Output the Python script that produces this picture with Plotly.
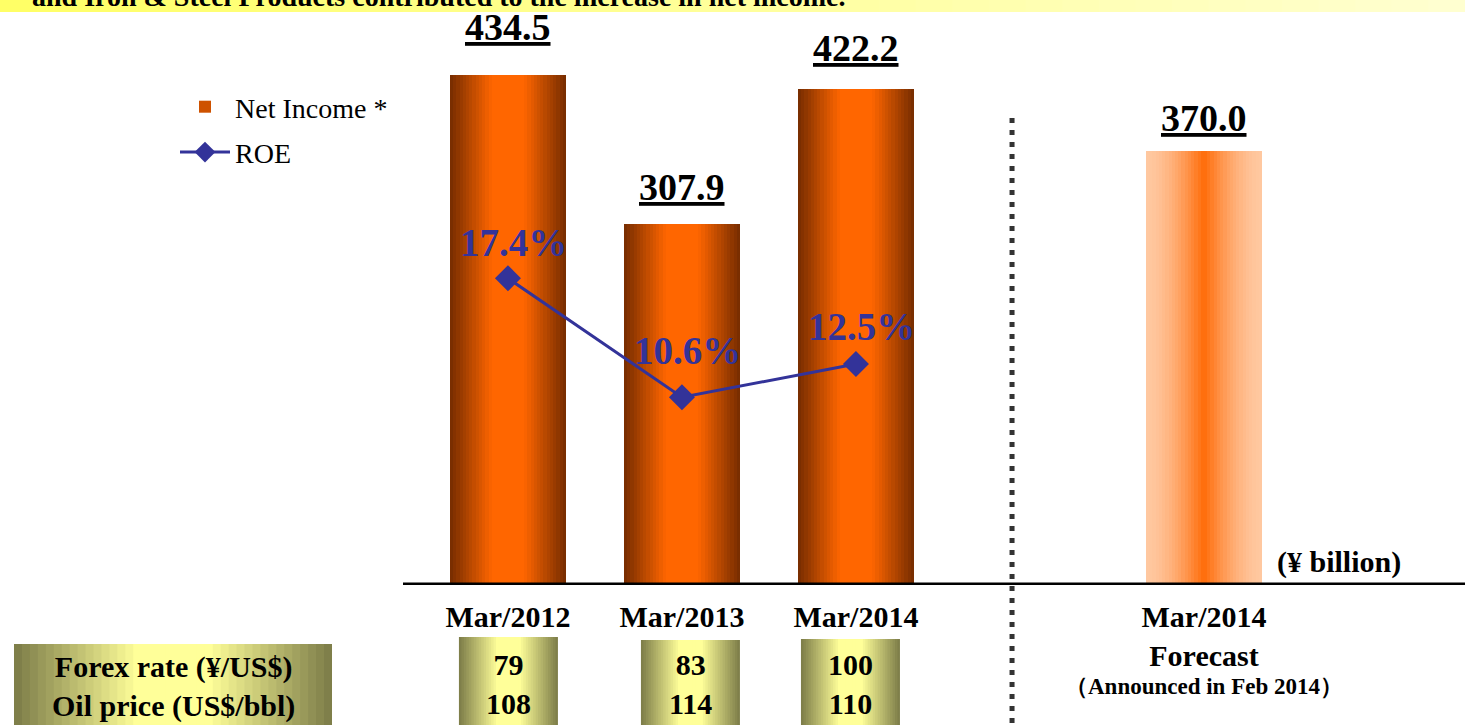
import plotly.graph_objects as go

# ---------------- data ----------------
categories = ["Mar/2012", "Mar/2013", "Mar/2014", "Mar/2014<br>Forecast"]
forecast_note = "（Announced in Feb 2014）"
net_income = [434.5, 307.9, 422.2, 370.0]
net_labels = ["434.5", "307.9", "422.2", "370.0"]
roe_categories = ["Mar/2012", "Mar/2013", "Mar/2014"]
roe = [17.4, 10.6, 12.5]
roe_labels = ["17.4%", "10.6%", "12.5%"]
forex = [79, 83, 100]
oil = [108, 114, 110]
banner_text = "and Iron &amp; Steel Products contributed to the increase in net income."

# ---------------- layout helpers ----------------
W, H = 1465, 725
x_pos = [0, 1, 2, 4]
FONT = "Liberation Serif, Times New Roman, serif"


def hexrgb(h):
    h = h.lstrip("#")
    return tuple(int(h[i:i + 2], 16) for i in (0, 2, 4))


def lerp(c1, c2, t):
    a, b = hexrgb(c1), hexrgb(c2)
    return "rgb(%d,%d,%d)" % tuple(round(a[i] + (b[i] - a[i]) * t) for i in range(3))


def px(x):
    return x / W


def py(y):
    return 1 - y / H


fig = go.Figure()

# gradient bars: nested overlaid bars
N = 18
bar_w = 0.667
edge_cols = ["#7a2e00", "#7a2e00", "#7a2e00", "#ffc8a0"]
scale = [0.7, 0.7, 0.7, 1.0]
center_col = "#ff6600"
for k in range(N):
    cols = [lerp(e, center_col, min(1.0, (k / N) / s) ** (1.0 if s < 1 else 1.6))
            for e, s in zip(edge_cols, scale)]
    fig.add_trace(go.Bar(
        x=x_pos, y=net_income, width=bar_w * (1 - k / N),
        marker=dict(color=cols, line=dict(width=0)),
        name="Net Income *", showlegend=(k == 8), hoverinfo="skip",
        legendgroup="ni", legendrank=1,
    ))

# ROE line
fig.add_trace(go.Scatter(
    x=x_pos[:len(roe)], y=roe, yaxis="y2", mode="lines+markers", name="ROE",
    line=dict(color="#333399", width=3),
    marker=dict(symbol="diamond", size=20, color="#333399"),
    legendgroup="roe", legendrank=2, hoverinfo="skip",
))

annotations = []
shapes = []

# value labels above bars
label_yshift = [25, 14, 18, 10]
for xi, v, lab, ys in zip(x_pos, net_income, net_labels, label_yshift):
    annotations.append(dict(
        x=xi, y=v, xref="x", yref="y", text="<b>" + lab + "</b>",
        showarrow=False, xanchor="center", yanchor="bottom", yshift=ys,
        font=dict(family=FONT, size=38, color="black", lineposition="under"),
    ))

# ROE labels
roe_yshift = [36, 47, 37]
for xi, v, lab, ys in zip(x_pos, roe, roe_labels, roe_yshift):
    annotations.append(dict(
        x=xi, y=v, xref="x", yref="y2", text="<b>" + lab + "</b>",
        showarrow=False, xanchor="center", yanchor="middle", yshift=ys, xshift=6,
        font=dict(family=FONT, size=39, color="#333399"),
    ))

# forecast note under the forecast tick label
annotations.append(dict(
    x=x_pos[3], y=py(686), xref="x", yref="paper", text="<b>" + forecast_note + "</b>",
    xanchor="center", yanchor="middle", showarrow=False,
    font=dict(family=FONT, size=23, color="black"),
))

# unit label
annotations.append(dict(
    x=px(1339), y=py(562), xref="paper", yref="paper", text="<b>(¥ billion)</b>",
    xanchor="center", yanchor="middle",
    showarrow=False, font=dict(family=FONT, size=30, color="black"),
))

# banner
nb = 40
for i in range(nb):
    shapes.append(dict(type="rect", xref="paper", yref="paper",
                       x0=i / nb, x1=(i + 1) / nb + 0.001, y0=py(12), y1=1,
                       fillcolor=lerp("#ffff66", "#ffffd0", i / (nb - 1)),
                       line=dict(width=0), layer="below"))
annotations.append(dict(
    x=px(30), y=py(14), xref="paper", yref="paper", xanchor="left", yanchor="bottom",
    text="<b>" + banner_text + "</b>", showarrow=False,
    font=dict(family=FONT, size=28, color="black"),
))


# gradient boxes (olive -> pale yellow -> olive)
def grad_box(x0, x1, y0, y1, xanchor=None, n=20):
    for i in range(n):
        f = 1 - i / n
        cx = (x0 + x1) / 2
        hw = (x1 - x0) / 2 * f
        d = dict(type="rect", yref="paper", y0=y0, y1=y1,
                 x0=cx - hw, x1=cx + hw,
                 fillcolor=lerp("#7f7f4a", "#ffff99", min(1, (i / n) / 0.75)),
                 line=dict(width=0), layer="above")
        if xanchor is not None:
            d.update(xref="x", xsizemode="pixel", xanchor=xanchor)
        else:
            d.update(xref="paper")
        shapes.append(d)


grad_box(px(14), px(332), py(725), py(644))
annotations.append(dict(
    x=px(173), y=py(686), xref="paper", yref="paper", xanchor="center", yanchor="middle",
    text="<b>Forex rate (¥/US$)<br>Oil price (US$/bbl)</b>", showarrow=False,
    font=dict(family=FONT, size=30, color="black"),
))

box_dx = [0.5, 8.5, -5.5]
box_top = [637, 640, 639]
for xi, fx, op, dx, top in zip(x_pos, forex, oil, box_dx, box_top):
    grad_box(dx - 49.5, dx + 49.5, py(725), py(top), xanchor=xi)
    annotations.append(dict(
        x=xi, y=py(684), xref="x", yref="paper", xshift=dx,
        xanchor="center", yanchor="middle",
        text="<b>%d<br>%d</b>" % (fx, op), showarrow=False,
        font=dict(family=FONT, size=30, color="black"),
    ))

# baseline
shapes.append(dict(type="line", xref="paper", yref="y", x0=px(403), x1=1, y0=0, y1=0,
                   line=dict(color="black", width=5), layer="above"))
# dotted separator
shapes.append(dict(type="line", xref="x", yref="paper", x0=2.897, x1=2.897,
                   y0=py(118), y1=0,
                   line=dict(color="#333333", width=5, dash="5px,7px"), layer="above"))

fig.update_layout(
    width=W, height=H,
    margin=dict(l=0, r=0, t=0, b=0),
    paper_bgcolor="white", plot_bgcolor="rgba(0,0,0,0)",
    barmode="overlay", bargap=0,
    font=dict(family=FONT, color="black"),
    showlegend=True,
    legend=dict(x=px(175), y=py(82), xanchor="left", yanchor="top",
                font=dict(family=FONT, size=28, color="black"),
                bgcolor="rgba(0,0,0,0)", itemwidth=50, tracegroupgap=6,
                traceorder="grouped"),
    xaxis=dict(domain=[px(403), 1], range=[-0.603, 5.5], showgrid=False,
               zeroline=False, showline=False, ticks="",
               tickvals=x_pos, ticktext=["<b>" + c + "</b>" for c in categories],
               ticklabelstandoff=11,
               tickfont=dict(family=FONT, size=30, color="black")),
    yaxis=dict(domain=[140 / H, 695 / H], range=[0, 472.8], visible=False),
    yaxis2=dict(domain=[140 / H, 695 / H], range=[-0.14, 31.6], overlaying="y",
                visible=False),
    annotations=annotations,
    shapes=shapes,
)

fig.write_html("out.html", config={"displayModeBar": False},
               post_script="document.body.style.margin='0';")
